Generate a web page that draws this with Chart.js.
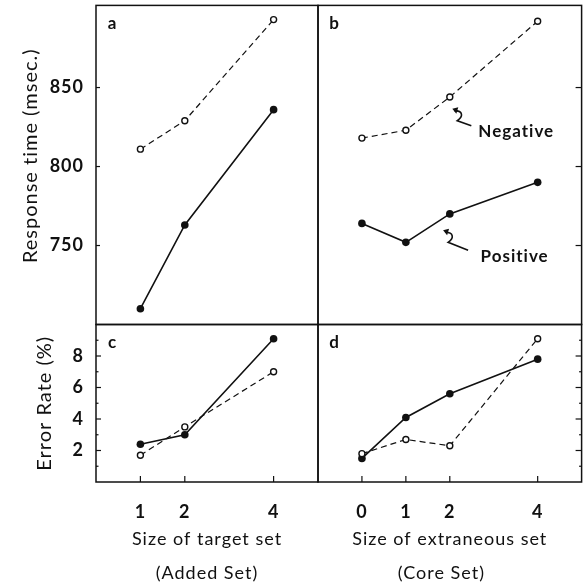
<!DOCTYPE html>
<html>
<head>
<meta charset="utf-8">
<script src="https://cdn.jsdelivr.net/npm/chart.js@4.4.1/dist/chart.umd.min.js"></script>
<style>
  html, body { margin: 0; padding: 0; background: #fff; }
  #wrap { position: relative; width: 587px; height: 585px; }
  #wrap canvas { position: absolute; left: 0; top: 0; }
</style>
</head>
<body>
<div id="wrap">
  <canvas id="panelA" width="587" height="585"></canvas>
  <canvas id="panelB" width="587" height="585"></canvas>
  <canvas id="panelC" width="587" height="585"></canvas>
  <canvas id="panelD" width="587" height="585"></canvas>
</div>
<script>
// x values
const targetSizes = [1, 2, 4];
const extraneousSizes = [0, 1, 2, 4];

// response time (msec.)
const rtAddedPositive = [710, 763, 836];
const rtAddedNegative = [811, 829, 893];
const rtCorePositive = [764, 752, 770, 790];
const rtCoreNegative = [818, 823, 844, 892];

// error rate (%)
const errAddedPositive = [2.4, 3.0, 9.1];
const errAddedNegative = [1.7, 3.5, 7.0];
const errCorePositive = [1.5, 4.1, 5.6, 7.8];
const errCoreNegative = [1.8, 2.7, 2.3, 9.1];

// tick labels
const rtTicks = [750, 800, 850];
const errTicks = [2, 4, 6, 8];
const errMinorTicks = [1, 3, 5, 7, 9];

// page layout
const W = 587, H = 585;
const LEFT = 96, MID_X = 318, RIGHT = 586;
const TOP = 5, MID_Y = 324.5, BOTTOM = 482;
const INK = '#111';
const FONT = 'Lato';

function points(xs, ys) {
  return xs.map((x, i) => ({x: x, y: ys[i]}));
}

function positiveSet(data) {
  return {
    data: data,
    borderColor: INK,
    borderWidth: 1.6,
    pointRadius: 3.8,
    pointBackgroundColor: INK,
    pointBorderWidth: 0,
    clip: false
  };
}

function negativeSet(data) {
  return {
    data: data,
    borderColor: INK,
    borderWidth: 1.2,
    borderDash: [6, 4],
    pointRadius: 3,
    pointBackgroundColor: '#fff',
    pointBorderColor: INK,
    pointBorderWidth: 1.4,
    clip: false
  };
}

function fixTicks(values) {
  return function (scale) {
    scale.ticks = values.map(v => ({value: v}));
  };
}

function noPad(scale) {
  scale.paddingTop = 0;
  scale.paddingBottom = 0;
  scale.paddingLeft = 0;
  scale.paddingRight = 0;
}

function line(ctx, x1, y1, x2, y2) {
  ctx.beginPath();
  ctx.moveTo(x1, y1);
  ctx.lineTo(x2, y2);
  ctx.stroke();
}

// little hooked arrow, tip at (hx, hy)
function hookArrow(ctx, hx, hy, dx, dy) {
  ctx.beginPath();
  ctx.moveTo(hx + dx, hy + dy);
  ctx.lineTo(hx + 4, hy + 11);
  ctx.bezierCurveTo(hx + 10, hy + 7, hx + 10, hy + 1, hx + 1, hy + 1);
  ctx.stroke();
  ctx.beginPath();
  ctx.moveTo(hx - 1, hy - 1);
  ctx.lineTo(hx + 5, hy - 2.5);
  ctx.lineTo(hx + 3, hy + 4);
  ctx.closePath();
  ctx.fill();
}

const panelFrame = {
  id: 'panelFrame',
  beforeDraw(chart) {
    chart.ctx.letterSpacing = '1px';
  },
  beforeDatasetsDraw(chart, args, opts) {
    const ctx = chart.ctx;
    const a = chart.chartArea;
    const sx = chart.scales.x, sy = chart.scales.y;
    ctx.save();
    ctx.strokeStyle = INK;
    ctx.lineWidth = 1.5;
    ctx.strokeRect(a.left, a.top, a.right - a.left, a.bottom - a.top);
    ctx.lineWidth = 1.2;
    const right = opts.ySide === 'right';
    const ex = right ? a.right : a.left;
    const dir = right ? -1 : 1;
    (opts.yTicks || []).forEach(v => {
      const py = sy.getPixelForValue(v);
      line(ctx, ex, py, ex + dir * opts.yTickLen, py);
    });
    (opts.yMinor || []).forEach(v => {
      const py = sy.getPixelForValue(v);
      line(ctx, ex, py, ex + dir * 2.5, py);
    });
    (opts.xTicks || []).forEach(v => {
      const px = sx.getPixelForValue(v);
      line(ctx, px, a.bottom, px, a.bottom - 6);
    });
    ctx.restore();
  },
  afterDatasetsDraw(chart, args, opts) {
    const ctx = chart.ctx;
    const a = chart.chartArea;
    const sx = chart.scales.x, sy = chart.scales.y;
    ctx.save();
    ctx.fillStyle = INK;
    ctx.strokeStyle = INK;
    ctx.letterSpacing = '0px';
    ctx.font = 'bold 17px ' + FONT;
    ctx.textAlign = 'center';
    ctx.textBaseline = 'middle';
    ctx.fillText(opts.letter, a.left + 16, a.top + 18);
    ctx.letterSpacing = '1px';
    ctx.textAlign = 'left';
    ctx.lineWidth = 1.6;
    (opts.notes || []).forEach(n => {
      ctx.font = 'bold 17px ' + FONT;
      ctx.fillText(n.text, sx.getPixelForValue(n.x), sy.getPixelForValue(n.y));
      hookArrow(ctx, sx.getPixelForValue(n.tipX), sy.getPixelForValue(n.tipY), n.dx, n.dy);
    });
    ctx.restore();
  }
};

const tickFont = {family: FONT, size: 18, weight: 'bold'};
const yTitleFont = {family: FONT, size: 20, weight: 'normal'};
const xTitleFont = {family: FONT, size: 18, weight: 'normal', lineHeight: 1.9};

function baseOptions(padding, frame) {
  return {
    responsive: false,
    animation: false,
    layout: {padding: padding},
    plugins: {
      legend: {display: false},
      tooltip: {enabled: false},
      panelFrame: frame
    }
  };
}

// a: response time, added set
let optsA = baseOptions({left: 0, top: TOP, right: W - MID_X, bottom: H - MID_Y},
  {letter: 'a', yTicks: rtTicks, yTickLen: 4});
optsA.scales = {
  x: {type: 'linear', min: 0, max: 5, display: false},
  y: {
    type: 'linear', min: 700, max: 902, position: 'left',
    afterBuildTicks: fixTicks(rtTicks),
    afterFit(scale) { scale.width = LEFT; noPad(scale); },
    grid: {display: false, drawTicks: false},
    border: {display: false},
    ticks: {padding: 12, color: INK, font: tickFont},
    title: {display: true, text: '   Response time (msec.)', color: INK, font: yTitleFont, padding: {top: 19, bottom: 0}}
  }
};
new Chart(document.getElementById('panelA').getContext('2d'), {
  type: 'line',
  data: {datasets: [
    negativeSet(points(targetSizes, rtAddedNegative)),
    positiveSet(points(targetSizes, rtAddedPositive))
  ]},
  options: optsA,
  plugins: [panelFrame]
});

// b: response time, core set
let optsB = baseOptions({left: MID_X, top: TOP, right: W - RIGHT, bottom: H - MID_Y},
  {letter: 'b', yTicks: rtTicks, yTickLen: 6, ySide: 'right',
   notes: [
     {text: 'Negative', x: 2.65, y: 822, tipX: 2.08, tipY: 836, dx: 18, dy: 16},
     {text: 'Positive', x: 2.7, y: 743, tipX: 1.87, tipY: 759, dx: 24, dy: 19}
   ]});
optsB.scales = {
  x: {type: 'linear', min: -1, max: 5, display: false},
  y: {type: 'linear', min: 700, max: 902, display: false}
};
new Chart(document.getElementById('panelB').getContext('2d'), {
  type: 'line',
  data: {datasets: [
    negativeSet(points(extraneousSizes, rtCoreNegative)),
    positiveSet(points(extraneousSizes, rtCorePositive))
  ]},
  options: optsB,
  plugins: [panelFrame]
});

// c: error rate, added set
let optsC = baseOptions({left: 0, top: MID_Y, right: W - MID_X, bottom: 0},
  {letter: 'c', yTicks: errTicks, yMinor: errMinorTicks, yTickLen: 5, xTicks: targetSizes});
optsC.scales = {
  x: {
    type: 'linear', min: 0, max: 5, position: 'bottom',
    afterBuildTicks: fixTicks(targetSizes),
    afterFit(scale) { scale.height = H - BOTTOM; noPad(scale); },
    grid: {display: false, drawTicks: false},
    border: {display: false},
    ticks: {padding: 19, color: INK, font: tickFont, maxRotation: 0},
    title: {display: true, text: ['Size of target set', '(Added Set)'], color: INK,
            font: xTitleFont, padding: {top: 0, bottom: -5}}
  },
  y: {
    type: 'linear', min: 0, max: 10, position: 'left',
    afterBuildTicks: fixTicks(errTicks),
    afterFit(scale) { scale.width = LEFT; noPad(scale); },
    grid: {display: false, drawTicks: false},
    border: {display: false},
    ticks: {padding: 12, color: INK, font: tickFont},
    title: {display: true, text: 'Error Rate (%)', color: INK, font: yTitleFont, padding: {top: 33, bottom: 0}}
  }
};
new Chart(document.getElementById('panelC').getContext('2d'), {
  type: 'line',
  data: {datasets: [
    negativeSet(points(targetSizes, errAddedNegative)),
    positiveSet(points(targetSizes, errAddedPositive))
  ]},
  options: optsC,
  plugins: [panelFrame]
});

// d: error rate, core set
let optsD = baseOptions({left: MID_X, top: MID_Y, right: W - RIGHT, bottom: 0},
  {letter: 'd', yTicks: errTicks, yMinor: errMinorTicks, yTickLen: 6, ySide: 'right', xTicks: extraneousSizes});
optsD.scales = {
  x: {
    type: 'linear', min: -1, max: 5, position: 'bottom',
    afterBuildTicks: fixTicks(extraneousSizes),
    afterFit(scale) { scale.height = H - BOTTOM; noPad(scale); },
    grid: {display: false, drawTicks: false},
    border: {display: false},
    ticks: {padding: 19, color: INK, font: tickFont, maxRotation: 0},
    title: {display: true, text: ['Size of extraneous set', '(Core Set)   '], color: INK,
            font: xTitleFont, padding: {top: 0, bottom: -5}}
  },
  y: {type: 'linear', min: 0, max: 10, display: false}
};
new Chart(document.getElementById('panelD').getContext('2d'), {
  type: 'line',
  data: {datasets: [
    negativeSet(points(extraneousSizes, errCoreNegative)),
    positiveSet(points(extraneousSizes, errCorePositive))
  ]},
  options: optsD,
  plugins: [panelFrame]
});
</script>
</body>
</html>
